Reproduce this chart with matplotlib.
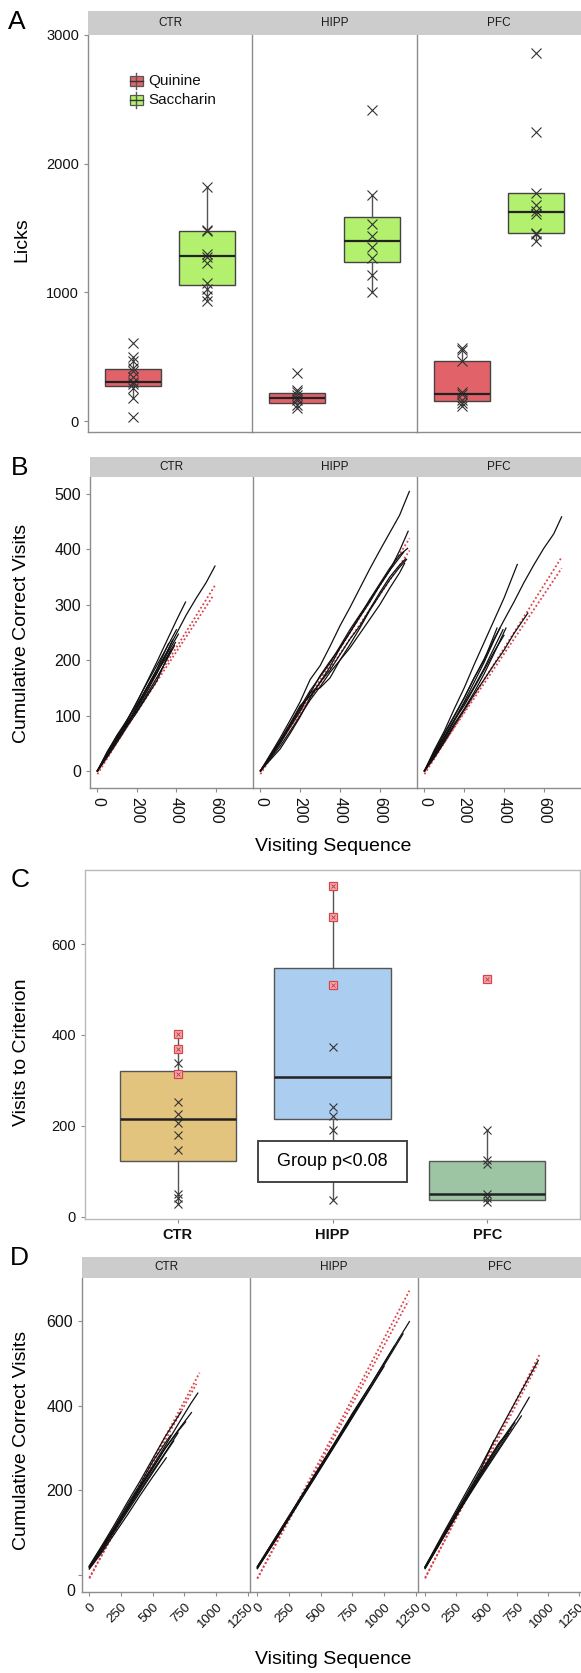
import numpy as np
import matplotlib.pyplot as plt
from matplotlib.patches import Rectangle
from matplotlib.lines import Line2D
import matplotlib.transforms as mtransforms

plt.rcParams['font.family'] = ['Liberation Sans', 'DejaVu Sans']

# ---------------- data ----------------
groups = ['CTR', 'HIPP', 'PFC']
tastes = ['Quinine', 'Saccharin']

# A: licks, box stats = [whislo, q1, med, q3, whishi]
quinine_stats = [[182, 276, 307, 401, 494], [99, 143, 182, 216, 242], [120, 159, 211, 466, 567]]
saccharin_stats = [[932, 1056, 1280, 1478, 1821], [1004, 1233, 1400, 1585, 1759], [1400, 1465, 1626, 1769, 1769]]
quinine_pts = [[609, 494, 463, 411, 390, 346, 307, 286, 255, 182, 34],
               [372, 242, 224, 203, 182, 164, 125, 99],
               [567, 554, 468, 229, 208, 164, 138, 120]]
saccharin_pts = [[1821, 1483, 1478, 1296, 1275, 1231, 1075, 1023, 971, 932],
                 [2420, 1759, 1530, 1439, 1353, 1265, 1134, 1004],
                 [2857, 2246, 1769, 1681, 1629, 1608, 1465, 1452, 1400]]

# B: cumulative correct visits vs visiting sequence
b_ctr_x = [[0, 50, 100, 150, 200, 250, 300, 350, 400, 450, 500, 550, 595],
           [0, 50, 100, 150, 200, 250, 300, 350, 400, 446],
           [0, 50, 100, 150, 200, 250, 300, 350, 380],
           [0, 50, 100, 150, 200, 250, 300, 350, 390],
           [0, 50, 100, 150, 200, 250, 300, 350, 400],
           [0, 50, 100, 150, 200, 250, 300, 370],
           [0, 50, 100, 150, 200, 250, 300, 350, 410],
           [0, 50, 100, 150, 200, 250, 300, 360],
           [0, 50, 100, 150, 200, 250, 300, 350, 395]]
b_ctr_y = [[0, 28, 57, 85, 117, 150, 182, 214, 248, 282, 312, 340, 370],
           [0, 30, 60, 92, 124, 160, 196, 234, 272, 305],
           [0, 27, 55, 82, 112, 143, 176, 212, 236],
           [0, 32, 62, 88, 108, 138, 168, 200, 226],
           [0, 29, 58, 90, 125, 158, 190, 222, 255],
           [0, 25, 52, 80, 106, 134, 162, 218],
           [0, 30, 60, 86, 114, 145, 176, 210, 247],
           [0, 35, 64, 84, 115, 150, 183, 230],
           [0, 33, 65, 92, 120, 150, 178, 205, 232]]
b_ctr_chance_x = [[0, 595], [0, 585]]
b_ctr_chance_y = [[-6, 335], [-2, 316]]

b_hipp_x = [[0, 50, 100, 150, 200, 250, 300, 350, 400, 450, 500, 550, 600, 650, 700, 749],
            [0, 100, 150, 200, 250, 300, 350, 400, 450, 500, 550, 600, 650, 700, 743],
            [0, 100, 150, 200, 250, 300, 350, 400, 450, 500, 550, 600, 650, 700, 735],
            [0, 100, 150, 200, 250, 300, 350, 400, 450, 500, 550, 600, 650, 700, 730],
            [0, 100, 150, 200, 250, 300, 350, 400, 450, 500, 550, 600, 650, 700, 740],
            [0, 100, 150, 200, 250, 300, 350, 400, 450, 500, 550, 600, 650, 700, 725],
            [0, 100, 150, 200, 250, 300, 350, 400, 450, 500, 550, 600, 650, 720]]
b_hipp_y = [[0, 30, 60, 92, 125, 165, 190, 225, 262, 295, 330, 365, 398, 430, 462, 505],
            [0, 52, 82, 112, 140, 172, 198, 222, 250, 278, 305, 335, 362, 398, 433],
            [0, 50, 80, 108, 142, 150, 168, 200, 228, 258, 290, 318, 345, 368, 382],
            [0, 40, 68, 98, 132, 160, 182, 210, 238, 262, 292, 322, 350, 372, 383],
            [0, 56, 86, 118, 135, 160, 188, 222, 250, 280, 310, 338, 366, 390, 402],
            [0, 45, 72, 100, 128, 152, 178, 200, 222, 248, 274, 300, 330, 358, 375],
            [0, 55, 84, 115, 145, 170, 195, 225, 255, 282, 308, 335, 362, 395]]
b_hipp_chance_x = [[0, 750], [0, 750]]
b_hipp_chance_y = [[-6, 420], [-2, 398]]

b_pfc_x = [[0, 50, 100, 150, 200, 250, 300, 350, 400, 450, 500, 550, 600, 650, 690],
           [0, 50, 100, 150, 200, 250, 300, 350, 400, 467],
           [0, 50, 100, 150, 200, 250, 300, 365],
           [0, 50, 100, 150, 200, 250, 300, 350, 380],
           [0, 50, 100, 150, 200, 250, 300, 350, 395],
           [0, 50, 100, 150, 200, 250, 300, 350, 410],
           [0, 50, 100, 150, 200, 250, 300, 350, 400],
           [0, 50, 100, 150, 200, 250, 300, 350, 400, 450, 520]]
b_pfc_y = [[0, 35, 68, 100, 132, 168, 202, 238, 272, 305, 340, 372, 402, 428, 459],
           [0, 38, 72, 112, 150, 192, 232, 272, 312, 373],
           [0, 34, 66, 98, 132, 168, 200, 258],
           [0, 30, 60, 92, 125, 160, 196, 236, 258],
           [0, 28, 58, 90, 122, 152, 185, 222, 255],
           [0, 26, 55, 85, 112, 142, 175, 212, 258],
           [0, 32, 62, 92, 118, 150, 182, 215, 245],
           [0, 24, 52, 82, 110, 138, 165, 192, 218, 248, 285]]
b_pfc_chance_x = [[0, 690], [0, 690]]
b_pfc_chance_y = [[-6, 386], [-2, 366]]

# C: visits to criterion
visits_stats = [[29, 123, 215, 321, 402], [37, 215, 308, 547, 727], [31, 37, 51, 123, 191]]
visits_x_pts = [[338, 253, 225, 206, 180, 147, 51, 42, 29],
                [373, 242, 222, 191, 37],
                [191, 125, 115, 51, 42, 33]]
visits_red_pts = [[402, 369, 314], [727, 660, 510], [524]]

# D: cumulative correct visits, second phase
d_ctr_x = [[0, 100, 200, 300, 400, 500, 600, 700, 800, 856],
           [0, 100, 200, 300, 400, 500, 600, 700, 806],
           [0, 100, 200, 300, 400, 500, 600, 724],
           [0, 100, 200, 300, 400, 500, 600, 666],
           [0, 100, 200, 300, 400, 500, 607],
           [0, 100, 200, 300, 400, 500, 600, 700, 760],
           [0, 100, 200, 300, 400, 500, 600, 700],
           [0, 100, 200, 300, 400, 500, 640]]
d_ctr_y = [[20, 66, 114, 160, 210, 258, 306, 356, 405, 430],
           [18, 62, 110, 156, 205, 252, 300, 342, 384],
           [22, 70, 120, 172, 222, 275, 328, 386],
           [16, 58, 104, 150, 196, 242, 288, 317],
           [14, 54, 98, 142, 188, 232, 277],
           [20, 64, 112, 160, 208, 254, 300, 340, 362],
           [18, 60, 108, 154, 200, 246, 290, 336],
           [20, 68, 114, 166, 214, 268, 330]]
d_ctr_chance_x = [[0, 870], [0, 845]]
d_ctr_chance_y = [[-8, 478], [-6, 452]]

d_hipp_x = [[0, 150, 300, 450, 600, 750, 900, 1050, 1200],
            [0, 150, 300, 450, 600, 750, 900, 1150],
            [0, 150, 300, 450, 600, 750, 900, 1080],
            [0, 150, 300, 450, 600, 750, 900, 1000],
            [0, 150, 300, 450, 600, 820],
            [0, 150, 300, 450, 600, 750]]
d_hipp_y = [[18, 90, 162, 233, 306, 380, 452, 526, 599],
            [16, 86, 158, 230, 302, 376, 446, 570],
            [20, 92, 164, 236, 308, 382, 452, 540],
            [15, 85, 157, 228, 300, 372, 445, 493],
            [18, 88, 160, 232, 303, 410],
            [20, 91, 163, 235, 306, 375]]
d_hipp_chance_x = [[0, 1200], [0, 1192]]
d_hipp_chance_y = [[-8, 672], [-8, 648]]

d_pfc_x = [[0, 150, 300, 450, 600, 750, 920],
           [0, 150, 300, 450, 600, 750, 847],
           [0, 150, 300, 450, 600, 783],
           [0, 150, 300, 450, 600, 730],
           [0, 150, 300, 450, 600, 700],
           [0, 150, 300, 450, 600, 680],
           [0, 150, 300, 450, 560]]
d_pfc_y = [[20, 100, 178, 256, 338, 418, 507],
           [18, 94, 168, 240, 310, 372, 420],
           [16, 90, 162, 230, 296, 376],
           [20, 94, 166, 236, 306, 360],
           [18, 95, 168, 242, 312, 345],
           [15, 89, 162, 234, 300, 335],
           [18, 96, 172, 248, 318]]
d_pfc_chance_x = [[0, 929], [0, 918]]
d_pfc_chance_y = [[-8, 520], [-6, 500]]

# ---------------- figure ----------------
W, H = 581, 1673
fig = plt.figure(figsize=(W / 100, H / 100), dpi=100)

GRAY = '#8c8c8c'
quinine_col = '#E2626A'
saccharin_col = '#B2F06E'
c_cols = ['#E3C47E', '#ABCDEF', '#9DC5A4']
RED = '#D9434B'
DOT = (0, (1.0, 1.3))


def px_axes(x0, y0, x1, y1):
    return fig.add_axes([x0 / W, 1 - y1 / H, (x1 - x0) / W, (y1 - y0) / H])


def strip(x0, x1, y0, y1, label):
    sa = px_axes(x0, y0, x1, y1)
    sa.set_facecolor('#CCCCCC')
    sa.set_xticks([])
    sa.set_yticks([])
    for s in sa.spines.values():
        s.set_visible(False)
    sa.text(0.5, 0.5, label, ha='center', va='center', fontsize=8.5, color='#1a1a1a')


def facet_style(ax, first, tick_size):
    for s in ['top', 'right']:
        ax.spines[s].set_visible(False)
    for s in ['left', 'bottom']:
        ax.spines[s].set_color(GRAY)
        ax.spines[s].set_linewidth(1.0)
    ax.tick_params(color=GRAY, length=3, width=0.8, labelcolor='#111111', labelsize=tick_size)
    if not first:
        ax.tick_params(axis='y', left=False, labelleft=False)


def fig_text(x, y, s, **kw):
    fig.text(x / W, 1 - y / H, s, **kw)


def boxes(ax, stats, pos, width, color, edge='#444444', medlw=1.6):
    st = [{'whislo': s[0], 'q1': s[1], 'med': s[2], 'q3': s[3], 'whishi': s[4], 'fliers': []} for s in stats]
    ax.bxp(st, positions=pos, widths=width, patch_artist=True, showcaps=False, showfliers=False,
           boxprops=dict(facecolor=color, edgecolor=edge, linewidth=1.0),
           medianprops=dict(color='#222222', linewidth=medlw),
           whiskerprops=dict(color='#555555', linewidth=1.0))


def curves(ax, xs, ys, cx, cy):
    for x, y in zip(cx, cy):
        ax.plot(x, y, ls=DOT, color=RED, lw=1.3)
    for x, y in zip(xs, ys):
        ax.plot(x, y, color='#111111', lw=0.9)


# ---------- Panel A ----------
a_edges = [88, 252, 417, 581]
for i, g in enumerate(groups):
    ax = px_axes(a_edges[i], 35, a_edges[i + 1], 432)
    strip(a_edges[i], a_edges[i + 1], 11, 35, g)
    boxes(ax, [quinine_stats[i]], [0.275], 0.34, quinine_col)
    boxes(ax, [saccharin_stats[i]], [0.725], 0.34, saccharin_col)
    ax.plot([0.275] * len(quinine_pts[i]), quinine_pts[i], 'x', color='#333333', ms=7, mew=0.8)
    ax.plot([0.725] * len(saccharin_pts[i]), saccharin_pts[i], 'x', color='#333333', ms=7, mew=0.8)
    ax.set_xlim(0, 1)
    ax.set_ylim(-85, 3000)
    ax.set_yticks([0, 1000, 2000, 3000])
    ax.set_xticks([])
    facet_style(ax, i == 0, 10.5)

# legend of panel A
for j, (lab, col) in enumerate(zip(tastes, [quinine_col, saccharin_col])):
    yc = 81 + 19 * j
    fig.add_artist(Line2D([136 / W, 136 / W], [1 - (yc - 8) / H, 1 - (yc + 8) / H],
                          transform=fig.transFigure, color='#555555', lw=1))
    fig.add_artist(Rectangle((130 / W, 1 - (yc + 5) / H), 13 / W, 10 / H, transform=fig.transFigure,
                             facecolor=col, edgecolor='#555555', lw=0.9))
    fig.add_artist(Line2D([130 / W, 143 / W], [1 - yc / H, 1 - yc / H],
                          transform=fig.transFigure, color='#333333', lw=1))
    fig_text(148, yc, lab, fontsize=11, va='center', ha='left', color='#111111')

fig_text(17, 22, 'A', fontsize=19, ha='center', va='center')
fig_text(22, 240, 'Licks', fontsize=14, rotation=90, ha='center', va='center')

# ---------- Panel B ----------
b_edges = [90, 253, 417, 581]
b_lines = [(b_ctr_x, b_ctr_y, b_ctr_chance_x, b_ctr_chance_y),
           (b_hipp_x, b_hipp_y, b_hipp_chance_x, b_hipp_chance_y),
           (b_pfc_x, b_pfc_y, b_pfc_chance_x, b_pfc_chance_y)]
for i, g in enumerate(groups):
    ax = px_axes(b_edges[i], 477, b_edges[i + 1], 788)
    strip(b_edges[i], b_edges[i + 1], 457, 477, g)
    curves(ax, *b_lines[i])
    ax.set_xlim(-37.5, 787.5)
    ax.set_ylim(-31, 531)
    ax.set_xticks([0, 200, 400, 600])
    ax.set_yticks([0, 100, 200, 300, 400, 500])
    facet_style(ax, i == 0, 11.5)
    for lbl in ax.get_xticklabels():
        lbl.set_rotation(-90)
        lbl.set_va('top')
        lbl.set_ha('center')

fig_text(20, 468, 'B', fontsize=19, ha='center', va='center')
fig_text(22, 633, 'Cumulative Correct Visits', fontsize=14, rotation=90, ha='center', va='center')
fig_text(333, 846, 'Visiting Sequence', fontsize=14, ha='center', va='center')

# ---------- Panel C ----------
axc = px_axes(85, 870, 580, 1219)
boxes(axc, visits_stats, [1, 2, 3], 0.75, c_cols[0], edge='#555555', medlw=1.8)
for patch, col in zip(axc.patches, c_cols):
    patch.set_facecolor(col)
for i in range(3):
    axc.plot([i + 1] * len(visits_x_pts[i]), visits_x_pts[i], 'x', color='#333333', ms=6, mew=0.8)
    axc.plot([i + 1] * len(visits_red_pts[i]), visits_red_pts[i], 's', ms=5.5,
             mfc='#F4AEB0', mec=RED, mew=0.9)
    axc.plot([i + 1] * len(visits_red_pts[i]), visits_red_pts[i], 'x', ms=3.5,
             color='#C8404A', mew=0.7)
axc.add_patch(Rectangle((1.518, 77), 0.963, 90, facecolor='white', edgecolor='#444444', lw=1.4, zorder=5))
axc.text(2, 122, 'Group p<0.08', fontsize=13, ha='center', va='center', zorder=6)
axc.set_xlim(0.4, 3.6)
axc.set_ylim(-5, 763)
axc.set_xticks([1, 2, 3])
axc.set_xticklabels(groups, fontsize=8.5, fontweight='bold')
axc.set_yticks([0, 200, 400, 600])
for s in axc.spines.values():
    s.set_color('#BBBBBB')
    s.set_linewidth(1.0)
axc.tick_params(color=GRAY, length=3, width=0.8, labelcolor='#111111', labelsize=10.5)

fig_text(20, 880, 'C', fontsize=19, ha='center', va='center')
fig_text(22, 1052, 'Visits to Criterion', fontsize=14, rotation=90, ha='center', va='center')

# ---------- Panel D ----------
d_edges = [82, 250, 418, 581]
d_lines = [(d_ctr_x, d_ctr_y, d_ctr_chance_x, d_ctr_chance_y),
           (d_hipp_x, d_hipp_y, d_hipp_chance_x, d_hipp_chance_y),
           (d_pfc_x, d_pfc_y, d_pfc_chance_x, d_pfc_chance_y)]
for i, g in enumerate(groups):
    ax = px_axes(d_edges[i], 1278, d_edges[i + 1], 1592)
    strip(d_edges[i], d_edges[i + 1], 1257, 1278, g)
    curves(ax, *d_lines[i])
    ax.set_xlim(-58, 1268)
    ax.set_ylim(-40, 702)
    ax.set_xticks([0, 250, 500, 750, 1000, 1250])
    ax.set_yticks([0, 200, 400, 600])
    if i == 0:
        ax.set_yticklabels(['', '200', '400', '600'])
        off = mtransforms.ScaledTranslation(-5 / 72, -16 / 100, fig.dpi_scale_trans)
        ax.text(0, 0, '0', transform=ax.get_yaxis_transform() + off, ha='right', va='center',
                fontsize=11.5, color='#111111')
    facet_style(ax, i == 0, 11.5)
    ax.tick_params(axis='x', labelsize=9.5)
    for lbl in ax.get_xticklabels():
        lbl.set_rotation(45)
        lbl.set_ha('right')
        lbl.set_rotation_mode('anchor')

fig_text(19, 1258, 'D', fontsize=19, ha='center', va='center')
fig_text(22, 1440, 'Cumulative Correct Visits', fontsize=14, rotation=90, ha='center', va='center')
fig_text(333, 1660, 'Visiting Sequence', fontsize=14, ha='center', va='center')

fig.savefig('out.png', dpi=100)
